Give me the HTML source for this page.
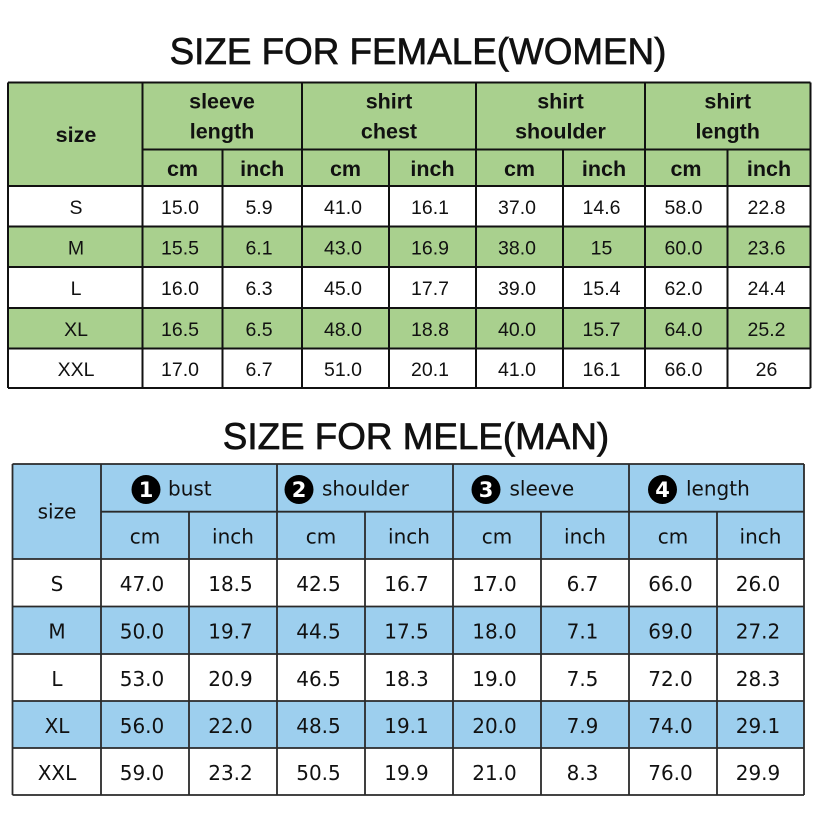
<!DOCTYPE html>
<html>
<head>
<meta charset="utf-8">
<style>
html,body{margin:0;padding:0;background:#fff;}
svg{display:block;}
.t{font-family:"Liberation Sans",Arial,sans-serif;fill:#111;stroke:#111;stroke-width:0.7;}
.h1{font-family:"Liberation Sans",Arial,sans-serif;font-size:21.5px;font-weight:bold;fill:#111;text-anchor:middle;}
.d1{font-family:"Liberation Sans",Arial,sans-serif;font-size:19.5px;fill:#111;text-anchor:middle;}
.d2{font-family:"DejaVu Sans",Verdana,sans-serif;font-size:20px;fill:#111;text-anchor:middle;}
.h2{font-family:"DejaVu Sans",Verdana,sans-serif;font-size:20px;fill:#111;}
.cn{font-family:"DejaVu Sans",Verdana,sans-serif;font-size:21px;font-weight:bold;fill:#fff;text-anchor:middle;}
</style>
</head>
<body>
<svg width="820" height="820" viewBox="0 0 820 820" xmlns="http://www.w3.org/2000/svg">
<rect x="0" y="0" width="820" height="820" fill="#fff"/>

<!-- Title 1 -->
<text class="t" x="418" y="64" font-size="36.8" text-anchor="middle">SIZE FOR FEMALE(WOMEN)</text>

<!-- Table 1 backgrounds -->
<rect x="8" y="82.5" width="802.5" height="103.5" fill="#a9d08e"/>
<rect x="8" y="226.5" width="802.5" height="40.5" fill="#a9d08e"/>
<rect x="8" y="308" width="802.5" height="40.5" fill="#a9d08e"/>

<!-- Table 1 lines -->
<g stroke="#111" stroke-width="2" fill="none">
<line x1="8" y1="82.5" x2="810.5" y2="82.5"/>
<line x1="142.5" y1="149.5" x2="810.5" y2="149.5"/>
<line x1="8" y1="186" x2="810.5" y2="186"/>
<line x1="8" y1="226.5" x2="810.5" y2="226.5"/>
<line x1="8" y1="267" x2="810.5" y2="267"/>
<line x1="8" y1="308" x2="810.5" y2="308"/>
<line x1="8" y1="348.5" x2="810.5" y2="348.5"/>
<line x1="8" y1="388" x2="810.5" y2="388"/>
<line x1="8" y1="82.5" x2="8" y2="388"/>
<line x1="142.5" y1="82.5" x2="142.5" y2="388"/>
<line x1="302" y1="82.5" x2="302" y2="388"/>
<line x1="476" y1="82.5" x2="476" y2="388"/>
<line x1="645" y1="82.5" x2="645" y2="388"/>
<line x1="810.5" y1="82.5" x2="810.5" y2="388"/>
<line x1="222.5" y1="149.5" x2="222.5" y2="388"/>
<line x1="389" y1="149.5" x2="389" y2="388"/>
<line x1="563" y1="149.5" x2="563" y2="388"/>
<line x1="727.5" y1="149.5" x2="727.5" y2="388"/>
</g>

<!-- Table 1 header text -->
<text class="h1" x="76" y="142">size</text>
<text class="h1" x="222" y="108.5">sleeve</text>
<text class="h1" x="222" y="138.5">length</text>
<text class="h1" x="389" y="108.5">shirt</text>
<text class="h1" x="389" y="138.5">chest</text>
<text class="h1" x="560.5" y="108.5">shirt</text>
<text class="h1" x="560.5" y="138.5">shoulder</text>
<text class="h1" x="727.7" y="108.5">shirt</text>
<text class="h1" x="727.7" y="138.5">length</text>
<g>
<text class="h1" x="182.5" y="176">cm</text>
<text class="h1" x="262.2" y="176">inch</text>
<text class="h1" x="345.5" y="176">cm</text>
<text class="h1" x="432.5" y="176">inch</text>
<text class="h1" x="519.5" y="176">cm</text>
<text class="h1" x="604" y="176">inch</text>
<text class="h1" x="686" y="176">cm</text>
<text class="h1" x="769" y="176">inch</text>
</g>

<!-- Table 1 data -->
<g>
<text class="d1" x="76" y="214">S</text>
<text class="d1" x="180" y="214">15.0</text>
<text class="d1" x="259" y="214">5.9</text>
<text class="d1" x="343" y="214">41.0</text>
<text class="d1" x="430" y="214">16.1</text>
<text class="d1" x="517" y="214">37.0</text>
<text class="d1" x="601.5" y="214">14.6</text>
<text class="d1" x="683.5" y="214">58.0</text>
<text class="d1" x="766.5" y="214">22.8</text>

<text class="d1" x="76" y="254.5">M</text>
<text class="d1" x="180" y="254.5">15.5</text>
<text class="d1" x="259" y="254.5">6.1</text>
<text class="d1" x="343" y="254.5">43.0</text>
<text class="d1" x="430" y="254.5">16.9</text>
<text class="d1" x="517" y="254.5">38.0</text>
<text class="d1" x="601.5" y="254.5">15</text>
<text class="d1" x="683.5" y="254.5">60.0</text>
<text class="d1" x="766.5" y="254.5">23.6</text>

<text class="d1" x="76" y="295">L</text>
<text class="d1" x="180" y="295">16.0</text>
<text class="d1" x="259" y="295">6.3</text>
<text class="d1" x="343" y="295">45.0</text>
<text class="d1" x="430" y="295">17.7</text>
<text class="d1" x="517" y="295">39.0</text>
<text class="d1" x="601.5" y="295">15.4</text>
<text class="d1" x="683.5" y="295">62.0</text>
<text class="d1" x="766.5" y="295">24.4</text>

<text class="d1" x="76" y="336">XL</text>
<text class="d1" x="180" y="336">16.5</text>
<text class="d1" x="259" y="336">6.5</text>
<text class="d1" x="343" y="336">48.0</text>
<text class="d1" x="430" y="336">18.8</text>
<text class="d1" x="517" y="336">40.0</text>
<text class="d1" x="601.5" y="336">15.7</text>
<text class="d1" x="683.5" y="336">64.0</text>
<text class="d1" x="766.5" y="336">25.2</text>

<text class="d1" x="76" y="376">XXL</text>
<text class="d1" x="180" y="376">17.0</text>
<text class="d1" x="259" y="376">6.7</text>
<text class="d1" x="343" y="376">51.0</text>
<text class="d1" x="430" y="376">20.1</text>
<text class="d1" x="517" y="376">41.0</text>
<text class="d1" x="601.5" y="376">16.1</text>
<text class="d1" x="683.5" y="376">66.0</text>
<text class="d1" x="766.5" y="376">26</text>
</g>

<!-- Title 2 -->
<text class="t" x="416" y="449" font-size="36.8" text-anchor="middle">SIZE FOR MELE(MAN)</text>

<!-- Table 2 backgrounds -->
<rect x="12.5" y="464" width="791.5" height="95" fill="#9dcfee"/>
<rect x="12.5" y="606.5" width="791.5" height="47.5" fill="#9dcfee"/>
<rect x="12.5" y="701" width="791.5" height="47" fill="#9dcfee"/>

<!-- Table 2 lines -->
<g stroke="#2a2a2a" stroke-width="1.8" fill="none">
<line x1="12.5" y1="464" x2="804" y2="464"/>
<line x1="101" y1="511.7" x2="804" y2="511.7"/>
<line x1="12.5" y1="559" x2="804" y2="559"/>
<line x1="12.5" y1="606.5" x2="804" y2="606.5"/>
<line x1="12.5" y1="654" x2="804" y2="654"/>
<line x1="12.5" y1="701" x2="804" y2="701"/>
<line x1="12.5" y1="748" x2="804" y2="748"/>
<line x1="12.5" y1="795" x2="804" y2="795"/>
<line x1="12.5" y1="464" x2="12.5" y2="795"/>
<line x1="101" y1="464" x2="101" y2="795"/>
<line x1="277" y1="464" x2="277" y2="795"/>
<line x1="453" y1="464" x2="453" y2="795"/>
<line x1="629" y1="464" x2="629" y2="795"/>
<line x1="804" y1="464" x2="804" y2="795"/>
<line x1="189" y1="511.7" x2="189" y2="795"/>
<line x1="365" y1="511.7" x2="365" y2="795"/>
<line x1="541" y1="511.7" x2="541" y2="795"/>
<line x1="717" y1="511.7" x2="717" y2="795"/>
</g>

<!-- Table 2 header -->
<text class="d2" x="57" y="518.5">size</text>

<circle cx="146" cy="489.5" r="14.5" fill="#000"/>
<text class="cn" x="146" y="497">1</text>
<text class="h2" x="168" y="495.7">bust</text>

<circle cx="299" cy="489.5" r="14.5" fill="#000"/>
<text class="cn" x="299" y="497">2</text>
<text class="h2" x="322" y="495.7">shoulder</text>

<circle cx="486" cy="489.5" r="14.5" fill="#000"/>
<text class="cn" x="486" y="497">3</text>
<text class="h2" x="509.5" y="495.7">sleeve</text>

<circle cx="662.5" cy="489.5" r="14.5" fill="#000"/>
<text class="cn" x="662.5" y="497">4</text>
<text class="h2" x="686" y="495.7">length</text>

<text class="d2" x="145" y="543.3">cm</text>
<text class="d2" x="233" y="543.3">inch</text>
<text class="d2" x="321" y="543.3">cm</text>
<text class="d2" x="409" y="543.3">inch</text>
<text class="d2" x="497" y="543.3">cm</text>
<text class="d2" x="585" y="543.3">inch</text>
<text class="d2" x="673" y="543.3">cm</text>
<text class="d2" x="760.5" y="543.3">inch</text>

<!-- Table 2 data -->
<g>
<text class="d2" x="57" y="591">S</text>
<text class="d2" x="142" y="591">47.0</text>
<text class="d2" x="230.5" y="591">18.5</text>
<text class="d2" x="318.5" y="591">42.5</text>
<text class="d2" x="406.5" y="591">16.7</text>
<text class="d2" x="494.5" y="591">17.0</text>
<text class="d2" x="582.5" y="591">6.7</text>
<text class="d2" x="670.5" y="591">66.0</text>
<text class="d2" x="758" y="591">26.0</text>

<text class="d2" x="57" y="638.5">M</text>
<text class="d2" x="142" y="638.5">50.0</text>
<text class="d2" x="230.5" y="638.5">19.7</text>
<text class="d2" x="318.5" y="638.5">44.5</text>
<text class="d2" x="406.5" y="638.5">17.5</text>
<text class="d2" x="494.5" y="638.5">18.0</text>
<text class="d2" x="582.5" y="638.5">7.1</text>
<text class="d2" x="670.5" y="638.5">69.0</text>
<text class="d2" x="758" y="638.5">27.2</text>

<text class="d2" x="57" y="685.8">L</text>
<text class="d2" x="142" y="685.8">53.0</text>
<text class="d2" x="230.5" y="685.8">20.9</text>
<text class="d2" x="318.5" y="685.8">46.5</text>
<text class="d2" x="406.5" y="685.8">18.3</text>
<text class="d2" x="494.5" y="685.8">19.0</text>
<text class="d2" x="582.5" y="685.8">7.5</text>
<text class="d2" x="670.5" y="685.8">72.0</text>
<text class="d2" x="758" y="685.8">28.3</text>

<text class="d2" x="57" y="732.8">XL</text>
<text class="d2" x="142" y="732.8">56.0</text>
<text class="d2" x="230.5" y="732.8">22.0</text>
<text class="d2" x="318.5" y="732.8">48.5</text>
<text class="d2" x="406.5" y="732.8">19.1</text>
<text class="d2" x="494.5" y="732.8">20.0</text>
<text class="d2" x="582.5" y="732.8">7.9</text>
<text class="d2" x="670.5" y="732.8">74.0</text>
<text class="d2" x="758" y="732.8">29.1</text>

<text class="d2" x="57" y="779.8">XXL</text>
<text class="d2" x="142" y="779.8">59.0</text>
<text class="d2" x="230.5" y="779.8">23.2</text>
<text class="d2" x="318.5" y="779.8">50.5</text>
<text class="d2" x="406.5" y="779.8">19.9</text>
<text class="d2" x="494.5" y="779.8">21.0</text>
<text class="d2" x="582.5" y="779.8">8.3</text>
<text class="d2" x="670.5" y="779.8">76.0</text>
<text class="d2" x="758" y="779.8">29.9</text>
</g>
</svg>
</body>
</html>
